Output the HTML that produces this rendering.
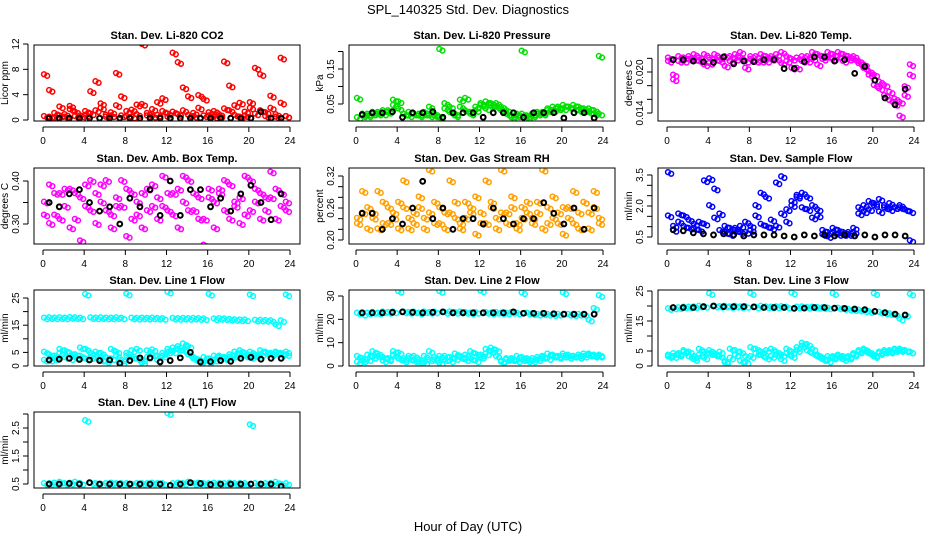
<!DOCTYPE html>
<html><head><meta charset="utf-8"><style>
body{margin:0;background:#fff}
svg{display:block;font-family:"Liberation Sans",Arial,sans-serif}
</style></head><body>
<svg id="chart" width="936" height="540" viewBox="0 0 936 540" xmlns="http://www.w3.org/2000/svg">
<rect width="936" height="540" fill="#fff"/>
<text x="468" y="14" text-anchor="middle" font-size="13">SPL_140325  Std. Dev. Diagnostics</text>
<text x="468" y="531" text-anchor="middle" font-size="13">Hour of Day (UTC)</text>
</svg>
<script>
const xTicks=[0,4,8,12,16,20,24];
const co2A=[0.5,0.4,1.0,2.0,0.8,1.6,1.2,0.6,1.3,0.9,1.4,1.8,0.7,1.1,2.2,0.6,1.3,1.5,0.8,2.4,1.0,1.6,0.7,1.3,0.9,1.2,0.8,1.4,0.7,1.0,1.8,0.6,1.1,1.3,0.8,1.7,1.4,0.7,2.6,1.2,1.8,0.9,1.4,1.1,1.8,0.8,2.6,0.5];
const co2B=[7.1,4.6,0.3,0.6,0.4,2.1,0.5,0.3,0.7,4.4,6.0,2.5,0.4,0.6,7.3,3.6,0.5,0.4,2.3,11.9,0.6,0.5,2.7,3.3,0.4,10.5,9.0,5.0,3.6,0.5,3.8,3.2,0.6,0.4,0.5,9.1,5.3,2.2,0.4,0.6,2.7,8.1,7.1,0.5,3.7,0.4,9.7,0.5];
const co2K=[0.3,0.3,0.3,0.3,0.3,0.3,0.3,0.3,0.3,0.3,0.3,0.3,0.3,0.3,0.3,0.3,0.3,0.3,0.3,0.3,0.3,1.3,0.3,0.3];
const prsA=[0.065,0.015,0.02,0.025,0.02,0.03,0.025,0.06,0.055,0.02,0.025,0.02,0.02,0.025,0.04,0.015,0.205,0.05,0.04,0.02,0.06,0.065,0.02,0.03,0.05,0.055,0.045,0.05,0.04,0.03,0.015,0.02,0.2,0.015,0.02,0.025,0.02,0.035,0.04,0.04,0.045,0.04,0.045,0.04,0.035,0.035,0.03,0.185];
const prsB=[0.01,0.02,0.015,0.02,0.025,0.02,0.03,0.045,0.035,0.02,0.015,0.02,0.015,0.02,0.015,0.02,0.01,0.035,0.025,0.015,0.04,0.03,0.025,0.04,0.045,0.035,0.05,0.04,0.03,0.02,0.01,0.015,0.02,0.01,0.015,0.02,0.025,0.03,0.03,0.035,0.035,0.04,0.035,0.03,0.03,0.025,0.02,0.02];
const prsK=[0.02,0.025,0.025,0.028,0.012,0.025,0.025,0.028,0.012,0.025,0.025,0.025,0.012,0.025,0.025,0.025,0.012,0.025,0.025,0.025,0.01,0.025,0.025,0.01];
const tmpA=[0.022,0.0195,0.0215,0.022,0.0222,0.0218,0.022,0.0225,0.0212,0.0218,0.022,0.0222,0.0215,0.0225,0.022,0.0205,0.0218,0.0222,0.0215,0.0222,0.0218,0.0225,0.0212,0.0222,0.0218,0.0205,0.0215,0.0222,0.0218,0.0225,0.0222,0.0228,0.0225,0.0222,0.0225,0.0222,0.0218,0.0215,0.021,0.02,0.0195,0.0185,0.018,0.017,0.016,0.0155,0.0165,0.021];
const tmpB=[0.0215,0.0188,0.0222,0.0215,0.0218,0.0225,0.0215,0.021,0.022,0.0225,0.0215,0.0208,0.0222,0.0218,0.0228,0.0215,0.0222,0.0215,0.0225,0.0215,0.0222,0.0218,0.0228,0.0215,0.0205,0.022,0.0222,0.0215,0.0228,0.021,0.0218,0.0222,0.0218,0.0228,0.0215,0.0218,0.0222,0.0212,0.0205,0.0195,0.018,0.0175,0.0165,0.0158,0.0152,0.0135,0.0178,0.0195];
const tmpK=[0.0218,0.0218,0.0216,0.0215,0.0214,0.0222,0.0212,0.0216,0.0215,0.0218,0.0218,0.0205,0.0205,0.0215,0.0222,0.0222,0.0216,0.0218,0.0198,0.0208,0.0188,0.0162,0.0152,0.0175];
const ambA=[0.35,0.39,0.32,0.37,0.34,0.38,0.31,0.36,0.39,0.33,0.37,0.35,0.40,0.32,0.36,0.34,0.38,0.31,0.35,0.37,0.33,0.39,0.36,0.34,0.37,0.32,0.38,0.35,0.40,0.33,0.36,0.31,0.38,0.35,0.37,0.33,0.39,0.34,0.36,0.32,0.40,0.35,0.37,0.33,0.36,0.38,0.34,0.35];
const ambB=[0.32,0.30,0.37,0.31,0.38,0.29,0.37,0.26,0.34,0.40,0.30,0.39,0.33,0.29,0.34,0.40,0.27,0.37,0.32,0.29,0.38,0.34,0.31,0.41,0.33,0.37,0.29,0.41,0.33,0.37,0.31,0.25,0.36,0.29,0.38,0.40,0.31,0.35,0.30,0.41,0.33,0.38,0.31,0.36,0.42,0.31,0.37,0.33];
const ambK=[0.35,0.34,0.37,0.38,0.35,0.33,0.34,0.30,0.36,0.34,0.38,0.32,0.40,0.32,0.38,0.38,0.34,0.36,0.33,0.37,0.39,0.35,0.31,0.37];
const rhA=[0.24,0.29,0.22,0.25,0.29,0.23,0.26,0.24,0.27,0.31,0.22,0.25,0.28,0.24,0.33,0.23,0.26,0.25,0.31,0.24,0.22,0.27,0.25,0.28,0.23,0.31,0.26,0.24,0.33,0.25,0.28,0.23,0.26,0.25,0.24,0.27,0.33,0.23,0.28,0.25,0.26,0.24,0.29,0.22,0.27,0.25,0.29,0.24];
const rhB=[0.23,0.25,0.26,0.24,0.22,0.27,0.23,0.25,0.22,0.26,0.24,0.23,0.26,0.22,0.25,0.27,0.23,0.22,0.25,0.27,0.23,0.24,0.26,0.21,0.25,0.23,0.27,0.22,0.25,0.23,0.26,0.22,0.24,0.27,0.23,0.25,0.22,0.26,0.24,0.23,0.21,0.26,0.23,0.25,0.27,0.22,0.26,0.23];
const rhK=[0.25,0.25,0.22,0.24,0.23,0.26,0.31,0.24,0.26,0.22,0.24,0.24,0.23,0.26,0.24,0.23,0.24,0.24,0.27,0.25,0.23,0.26,0.22,0.26];
const sfA=[3.6,1.0,1.2,1.5,1.3,0.9,1.2,1.1,2.0,2.8,1.6,1.0,0.9,0.8,0.7,1.2,1.0,1.5,2.6,2.4,1.3,1.0,3.4,1.2,2.2,2.5,2.6,2.4,2.0,1.8,0.8,0.7,0.9,0.6,0.7,0.6,0.7,1.9,2.0,2.2,2.1,2.3,2.0,2.1,1.9,1.9,1.8,1.7];
const sfB=[1.5,0.8,1.6,1.0,0.9,1.1,0.8,3.2,3.3,1.4,0.8,0.7,0.6,0.9,1.0,0.7,0.8,2.0,1.1,1.0,0.9,3.1,1.6,1.8,2.0,2.4,1.9,1.8,1.4,1.5,0.6,0.5,0.7,0.8,0.6,0.7,0.9,1.6,1.7,1.8,2.0,1.7,1.9,1.8,1.9,2.0,1.8,0.3];
const sfK=[0.85,0.8,0.7,0.65,0.6,0.65,0.6,0.55,0.6,0.6,0.6,0.55,0.5,0.6,0.55,0.6,0.55,0.6,0.55,0.6,0.5,0.6,0.6,0.55];
const l1Hi=[17.5,17.6,17.5,17.6,17.5,17.7,17.6,17.5,26.2,17.6,17.5,17.6,17.5,17.5,17.6,17.5,26.3,17.5,17.4,17.5,17.4,17.5,17.4,17.3,27.0,17.4,17.3,17.4,17.3,17.4,17.3,17.2,26.2,17.2,17.3,17.2,17.0,16.9,16.8,16.8,26.0,16.7,16.7,16.6,16.5,15.0,16.5,26.0];
const l1A=[5.0,2.0,3.5,6.0,5.5,4.5,3.0,6.5,6.0,3.0,5.0,4.5,3.0,6.0,5.0,2.0,3.5,5.5,6.0,2.0,5.5,5.8,2.0,3.5,6.0,5.0,7.0,8.0,7.0,3.0,2.0,1.0,2.5,3.5,3.0,3.0,4.0,5.0,5.5,4.5,5.0,4.0,5.5,5.0,4.5,5.0,4.5,5.0];
const l1B=[2.0,4.0,2.5,4.5,3.0,2.5,4.0,3.5,2.5,4.5,3.0,2.0,1.5,2.5,3.5,1.0,4.5,3.0,2.5,1.0,3.0,4.0,3.5,4.5,5.0,6.5,6.0,5.5,4.0,2.5,1.5,3.0,1.5,2.0,3.5,2.5,3.0,3.5,4.0,3.5,3.0,3.5,4.0,4.5,4.0,4.5,4.0,4.0];
const l1K=[2.2,2.5,2.8,2.4,2.2,2.0,2.2,1.0,2.0,3.0,3.0,1.5,2.0,3.0,5.0,1.5,1.6,2.0,1.7,2.8,3.2,2.5,2.8,2.8];
const l2Hi=[22.5,22.0,22.5,22.8,22.5,23.0,22.8,23.0,31.8,23.0,22.8,23.0,22.5,23.0,22.8,23.0,31.8,22.8,23.0,22.8,23.0,22.8,22.5,22.8,32.0,22.8,22.5,22.8,22.5,22.5,22.8,22.5,31.2,22.5,22.2,22.0,22.2,22.0,21.8,22.0,31.2,22.0,21.8,22.0,21.8,19.5,24.5,30.0];
const l2A=[4.0,2.0,4.5,6.0,5.0,3.5,2.5,6.0,5.5,3.0,4.0,2.0,1.5,4.0,6.0,2.5,1.0,4.0,3.5,5.0,4.0,2.5,6.0,5.0,3.5,7.0,7.5,6.5,2.0,3.0,2.5,4.0,3.5,2.0,3.0,3.5,4.0,5.0,4.5,4.0,5.0,4.5,4.0,4.5,5.0,5.0,4.5,4.0];
const l2B=[1.5,3.0,2.5,3.5,4.0,2.0,3.0,4.5,3.0,2.0,3.0,4.0,2.5,1.0,2.5,3.5,4.0,2.5,2.0,3.0,3.5,4.5,3.0,2.0,4.5,5.0,6.0,4.0,1.5,2.5,3.0,2.0,2.5,3.0,2.0,2.5,3.5,3.0,4.0,3.5,4.0,3.5,4.0,3.5,4.0,4.5,4.0,4.5];
const l2K=[22.8,22.8,22.8,23.0,23.2,23.0,22.8,23.0,23.2,22.8,22.8,22.8,22.8,22.8,22.8,23.2,22.6,22.6,22.6,22.4,22.2,22.2,22.2,22.2];
const l3Hi=[19.0,19.2,19.3,19.5,19.5,19.6,19.8,19.7,24.0,19.8,19.7,19.8,19.6,19.8,19.6,19.7,24.0,19.5,19.8,19.6,19.5,19.6,19.7,19.5,24.2,19.5,19.6,19.4,19.5,19.4,19.3,19.2,24.0,19.2,19.0,18.8,18.6,18.5,18.2,18.0,24.0,17.8,17.5,17.3,17.0,15.5,16.8,23.8];
const l3A=[3.5,3.0,4.0,5.0,4.5,3.0,5.5,4.5,4.0,3.5,4.5,1.5,5.5,5.0,1.5,3.0,6.0,4.0,3.5,5.0,5.5,3.5,2.0,5.5,4.5,5.0,7.5,7.0,5.5,3.5,2.5,1.5,3.0,3.5,3.0,2.5,4.0,5.0,5.5,4.5,3.5,4.0,5.0,5.0,5.5,5.5,5.0,4.5];
const l3B=[3.0,4.0,3.5,4.5,3.0,2.0,3.5,2.5,5.0,4.0,3.0,1.0,2.5,3.5,4.5,1.0,3.0,5.5,4.5,2.5,3.0,4.5,3.5,4.0,3.0,6.0,6.5,5.0,4.0,3.0,2.0,3.0,2.5,3.0,2.0,3.0,3.5,4.5,5.0,4.0,3.0,4.5,4.5,4.5,5.0,5.0,5.0,4.5];
const l3K=[19.5,19.5,19.5,19.8,20.0,19.8,19.8,19.8,19.7,19.5,19.5,19.5,19.2,19.3,19.5,19.5,19.3,19.2,19.0,18.8,18.2,17.8,17.3,17.0];
const l4A=[0.5,0.5,0.52,0.55,0.5,0.52,0.55,0.5,2.75,0.52,0.5,0.48,0.5,0.52,0.5,0.5,0.5,0.48,0.5,0.5,0.5,0.52,0.5,0.5,3.0,0.5,0.52,0.5,0.55,0.5,0.52,0.5,0.5,0.52,0.5,0.5,0.52,0.5,0.5,0.5,2.6,0.5,0.48,0.5,0.5,0.55,0.48,0.5];
const l4K=[0.5,0.5,0.52,0.5,0.55,0.5,0.5,0.5,0.5,0.5,0.5,0.5,0.45,0.5,0.55,0.52,0.48,0.5,0.5,0.5,0.5,0.5,0.5,0.42];

const hours48=[];for(let i=0;i<48;i++)hours48.push(0.25+0.5*i);
const hours24=[];for(let i=0;i<24;i++)hours24.push(0.6+0.98*i);

const NS="http://www.w3.org/2000/svg";
const svg=document.getElementById('chart');
function mk(tag,attrs,parent){const e=document.createElementNS(NS,tag);for(const k in attrs)e.setAttribute(k,attrs[k]);(parent||svg).appendChild(e);return e;}

const panels=[
 {c:0,r:0,name:'co2',title:'Stan. Dev. Li-820 CO2',ylab:'Licor ppm',ya:[0,120],yb:[12,44],ticks:[0,4,8,12],labels:['0','4','8','12'],col:'#ff0000',series:[co2A,co2B],black:co2K},
 {c:1,r:0,name:'pressure',title:'Stan. Dev. Li-820 Pressure',ylab:'kPa',ya:[0.05,104],yb:[0.15,69],ticks:[0.05,0.10,0.15,0.20],labels:['0.05','','0.15',''],col:'#00e000',series:[prsA,prsB],black:prsK},
 {c:2,r:0,name:'temp',title:'Stan. Dev. Li-820 Temp.',ylab:'degrees C',ya:[0.014,113],yb:[0.020,72],ticks:[0.014,0.016,0.018,0.020,0.022],labels:['0.014','','','0.020',''],col:'#ff00ff',series:[tmpA,tmpB],black:tmpK},
 {c:0,r:1,name:'amb-temp',title:'Stan. Dev. Amb. Box Temp.',ylab:'degrees C',ya:[0.30,224],yb:[0.40,181],ticks:[0.30,0.35,0.40],labels:['0.30','','0.40'],col:'#ff00ff',series:[ambA,ambB],black:ambK},
 {c:1,r:1,name:'rh',title:'Stan. Dev. Gas Stream RH',ylab:'percent',ya:[0.20,240],yb:[0.32,176],ticks:[0.20,0.22,0.24,0.26,0.28,0.30,0.32],labels:['0.20','','','0.26','','','0.32'],col:'#ffa000',series:[rhA,rhB],black:rhK},
 {c:2,r:1,name:'sample-flow',title:'Stan. Dev. Sample Flow',ylab:'ml/min',ya:[0.5,237],yb:[3.5,175],ticks:[0.5,1,1.5,2,2.5,3,3.5],labels:['0.5','','','2.0','','','3.5'],col:'#0000ff',series:[sfA,sfB],black:sfK},
 {c:0,r:2,name:'line1',title:'Stan. Dev. Line 1 Flow',ylab:'ml/min',ya:[0,366],yb:[25,298],ticks:[0,5,10,15,20,25],labels:['0','5','','15','','25'],col:'#00ffff',series:[l1Hi,l1A,l1B],black:l1K},
 {c:1,r:2,name:'line2',title:'Stan. Dev. Line 2 Flow',ylab:'ml/min',ya:[0,366],yb:[30,296],ticks:[0,10,20,30],labels:['0','10','20','30'],col:'#00ffff',series:[l2Hi,l2A,l2B],black:l2K},
 {c:2,r:2,name:'line3',title:'Stan. Dev. Line 3 Flow',ylab:'ml/min',ya:[0,366],yb:[25,291],ticks:[0,5,10,15,20,25],labels:['0','5','','15','','25'],col:'#00ffff',series:[l3Hi,l3A,l3B],black:l3K},
 {c:0,r:3,name:'line4',title:'Stan. Dev. Line 4 (LT) Flow',ylab:'ml/min',ya:[0.5,484],yb:[2.5,428],ticks:[0.5,1,1.5,2,2.5,3],labels:['0.5','','1.5','','2.5',''],col:'#00ffff',series:[l4A],black:l4K}
];
const tops=[45,168,290,412], H=76;
const spread=[-1.6,1.6];
panels.forEach(p=>{
  const L=34+312*p.c+(p.c==1?3:0), R=L+266, T=tops[p.r], B=T+H;
  const x0=43+312*p.c+(p.c==1?1:0), xs=247/24;
  const X=v=>x0+v*xs;
  const Y=v=>p.ya[1]+(v-p.ya[0])*(p.yb[1]-p.ya[1])/(p.yb[0]-p.ya[0]);
  const g=mk('g',{});
  
  
  const t=mk('text',{x:(L+R)/2,y:T-6,'text-anchor':'middle','font-size':'11','font-weight':'bold'},g);t.textContent=p.title;
  
  
  const clip=mk('clipPath',{id:'c'+p.name},g);mk('rect',{x:L,y:T,width:R-L,height:B-T},clip);
  const pts=mk('g',{'clip-path':'url(#c'+p.name+')',fill:'none','stroke-width':'1.5'},g);
  p.series.forEach((s,si)=>{s.forEach((v,i)=>{
    spread.forEach((dx,k)=>{
      const c=mk('circle',{cx:X(hours48[i])+dx,cy:Y(v)+(k%2?0.8:-0.8),r:2.4,stroke:p.col},pts);
      
      
    });
  });});
  p.black.forEach((v,i)=>{
    const c=mk('circle',{cx:X(hours24[i]),cy:Y(v),r:2.4,stroke:'#000','stroke-width':'2'},pts);
    
    
  });
  const box=mk('rect',{x:L,y:T,width:R-L,height:B-T,fill:'none',stroke:'#000','stroke-width':'1'},g);
  
  
  mk('line',{x1:X(0),x2:X(24),y1:B+6,y2:B+6,stroke:'#000'},g);
  xTicks.forEach(v=>{
    mk('line',{x1:X(v),x2:X(v),y1:B+6,y2:B+11,stroke:'#000'},g);
    const tl=mk('text',{x:X(v),y:B+23,'text-anchor':'middle','font-size':'10'},g);tl.textContent=v;
    
    
  });
  mk('line',{x1:L-6,x2:L-6,y1:Y(p.ticks[0]),y2:Y(p.ticks[p.ticks.length-1]),stroke:'#000'},g);
  p.ticks.forEach((v,i)=>{
    const y=Y(v);
    mk('line',{x1:L-11,x2:L-6,y1:y,y2:y,stroke:'#000'},g);
    if(p.labels[i]){
      const tl=mk('text',{x:L-15,y:y,'text-anchor':'middle','font-size':'10',transform:`rotate(-90 ${L-15} ${y})`},g);tl.textContent=p.labels[i];
      
      
    }
  });
  const yl=mk('text',{x:L-26,y:(T+B)/2,'text-anchor':'middle','font-size':'10',transform:`rotate(-90 ${L-26} ${(T+B)/2})`},g);yl.textContent=p.ylab;
  
  
});
</script>
</body></html>
